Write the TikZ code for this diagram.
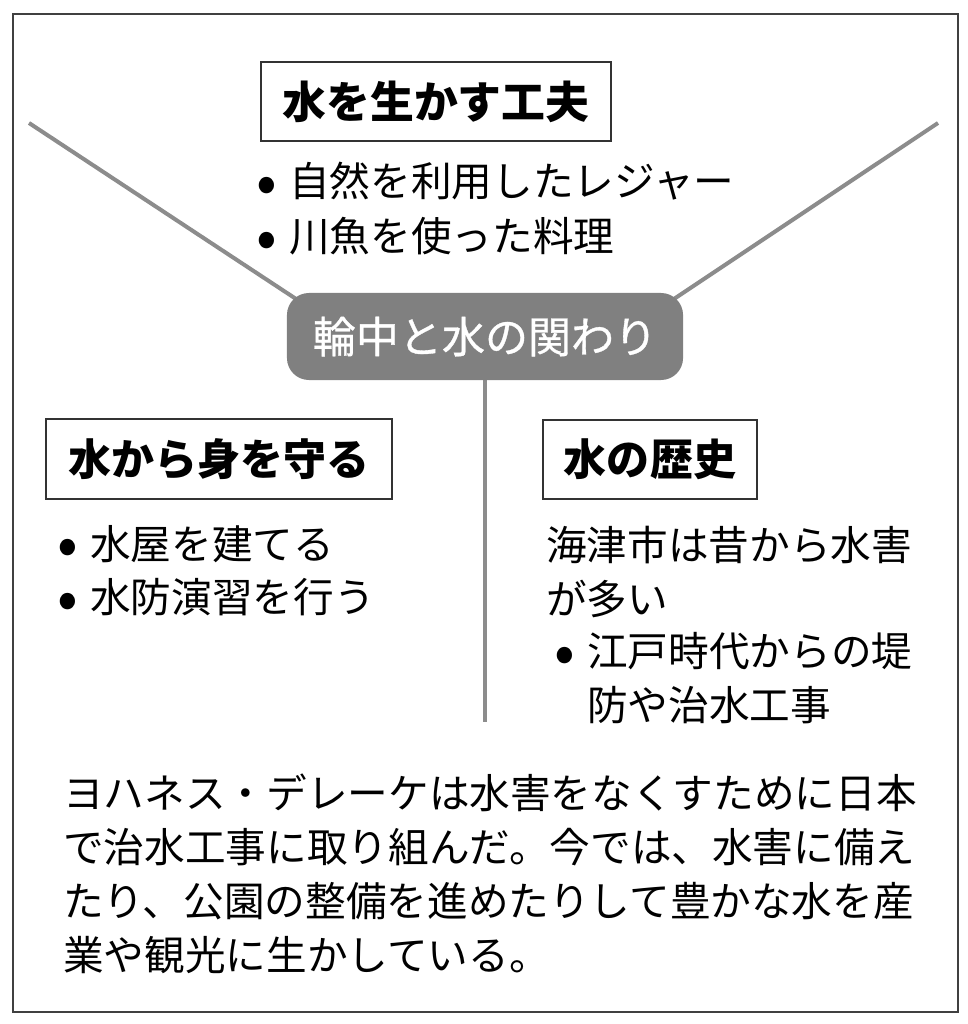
\documentclass[tikz,border=0pt]{standalone}
\usepackage{fontspec}
\newfontfamily\jpfont{Noto Sans CJK JP}
\usetikzlibrary{positioning,calc}
\pgfdeclarelayer{background}
\pgfsetlayers{background,main}
\newcommand{\bodyfont}{\jpfont\fontsize{28.9pt}{37.7pt}\selectfont}
\newcommand{\headfont}{\jpfont\bfseries\fontsize{30.6pt}{36pt}\selectfont}
\newcommand{\blt}[1]{\makebox[0.5cm][c]{\raisebox{-0.17cm}[0pt][0pt]{\scalebox{1.5}{•}}}\hspace{0.3cm}#1}

\begin{document}
\begin{tikzpicture}[x=0.025cm,y=-0.025cm,
		headbox/.style={draw=black!80,line width=1pt,inner sep=0pt,font=\headfont,text height=0.946cm,text depth=0.129cm},
		bodyline/.style={anchor=base west,inner sep=0pt,font=\bodyfont},
		spoke/.style={draw=black!45,line width=2.85pt}]
			\useasboundingbox (0,0) rectangle (967,1024);
			\draw[black!75,line width=1.3pt] (13,14) rectangle (958,1012);
			
			% hub
			\node[fill=black!50,rounded corners=0.55cm,minimum width=9.9cm,minimum height=2.175cm,inner sep=0pt,text=white,font=\headfont\mdseries\addfontfeature{FakeBold=0.8},text height=0.946cm,text depth=0.129cm] (hub) at (485,336.5) {輪中と水の関わり};
			\coordinate (lt) at (29,123);
			\coordinate (rt) at (938,123);
			\coordinate (bt) at (485,722);
			\begin{pgfonlayer}{background}
				\draw[spoke] (lt)--([shift={(9,6)}]hub.north west);
				\draw[spoke] (rt)--([shift={(-9,6)}]hub.north east);
				\draw[spoke] (hub.south)--(bt);
			\end{pgfonlayer}
			
			% headings
			\node[headbox,minimum width=8.75cm,minimum height=1.975cm,font=\jpfont\bfseries\fontsize{31.2pt}{36pt}\selectfont,text height=0.965cm,text depth=0.132cm] (use) at (436,101.5) {水を生かす工夫};
			\node[headbox,minimum width=8.65cm,minimum height=2cm] (guard) at (219,459) {水から身を守る};
			\node[headbox,minimum width=5.35cm,minimum height=1.975cm] (hist) at (650,459.5) {水の歴史};
			
			% lists
			\node[bodyline] (use1) at (257,197) {\blt{自然を利用したレジャー}};
			\node[bodyline] (use2) at (257,252) {\blt{川魚を使った料理}};
			\node[bodyline] (guard1) at (58,559) {\blt{水屋を建てる}};
			\node[bodyline] (guard2) at (58,612.5) {\blt{水防演習を行う}};
			\node[bodyline] (hist1) at (546,560.5) {海津市は昔から水害};
			\node[bodyline] (hist2) at (546,614.5) {が多い};
			\node[bodyline] (hist3) at (555,666.5) {\blt{江戸時代からの堤}};
			\node[bodyline] (hist4) at (587,720) {防や治水工事};
			
			% summary
			\foreach \txt [count=\i] in {ヨハネス・デレーケは水害をなくすために日本,で治水工事に取り組んだ。今では、水害に備え,たり、公園の整備を進めたりして豊かな水を産,業や観光に生かしている。}{%
				\node[bodyline] (sum\i) at (63,{808.5+54*(\i-1)}) {\txt};
			}
		\end{tikzpicture}
\end{document}
